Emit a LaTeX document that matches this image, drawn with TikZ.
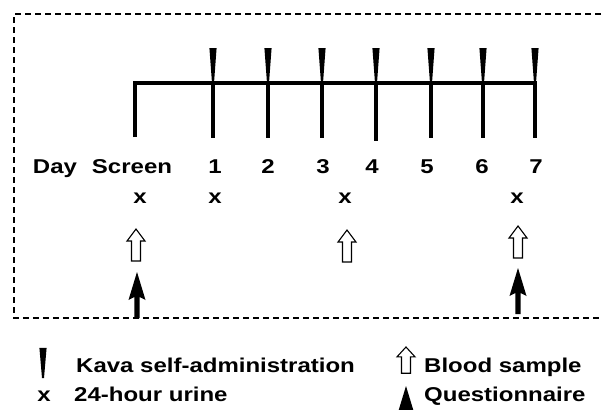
\documentclass[tikz,border=0pt]{standalone}
\usepackage{fontspec}
\setmainfont{Liberation Sans}[FakeStretch=1.2]
\begin{document}
\begin{tikzpicture}[x=1pt,y=-1pt,
  lbl/.style={inner sep=0pt, font=\fontsize{20}{24}\selectfont\bfseries},
  tline/.style={line width=4pt, line join=miter},
  frame/.style={line width=1.3pt, dash pattern=on 6pt off 4pt},
  kava/.pic={\fill (-3.6,-35) -- (3.6,-35) -- (1,0) -- (-1,0) -- cycle;},
  blood/.pic={\draw[line width=1.1pt, fill=white, line join=miter] (0,0) -- (9,12) -- (4.5,12) -- (4.5,32) -- (-4.5,32) -- (-4.5,12) -- (-9,12) -- cycle;},
  quest/.pic={\fill (0,0) -- (8.5,28) -- (2.6,25) -- (2.6,46) -- (-2.6,46) -- (-2.6,25) -- (-8.5,28) -- cycle;}
]
\useasboundingbox (0,0) rectangle (603,410);
% dashed frame (top, left, bottom)
\coordinate (ftr) at (601,14);
\coordinate (ftl) at (14,14);
\coordinate (fbl) at (14,318);
\coordinate (fbr) at (601,318);
\draw[frame] (ftr) -- (ftl) -- (fbl) -- (fbr);
% timeline
\coordinate (s0) at (135,83);
\coordinate (d1) at (213,83);
\coordinate (d2) at (268,83);
\coordinate (d3) at (322,83);
\coordinate (d4) at (376,83);
\coordinate (d5) at (431,83);
\coordinate (d6) at (483,83);
\coordinate (d7) at (535,83);
\draw[tline] (135,137) -- (s0) -- (d7) -- ++(0,55);
\foreach \d in {d1,d2,d3,d5,d6} \draw[tline] (\d) -- ++(0,55);
\draw[tline] (d4) -- ++(0,58);
\foreach \d in {d1,d2,d3,d4,d5,d6,d7} \pic at (\d) {kava};
% day labels
\node[lbl, anchor=base] (lday) at (55,173) {Day};
\node[lbl, anchor=base] (lscr) at (132,173) {Screen};
\node[lbl, anchor=base] (l1) at (215,173) {1};
\node[lbl, anchor=base] (l2) at (268,173) {2};
\node[lbl, anchor=base] (l3) at (323,173) {3};
\node[lbl, anchor=base] (l4) at (372,173) {4};
\node[lbl, anchor=base] (l5) at (427,173) {5};
\node[lbl, anchor=base] (l6) at (482,173) {6};
\node[lbl, anchor=base] (l7) at (536,173) {7};
% urine
\node[lbl, anchor=base] (u0) at (140,203) {x};
\node[lbl, anchor=base] (u1) at (215,203) {x};
\node[lbl, anchor=base] (u3) at (345,203) {x};
\node[lbl, anchor=base] (u7) at (517,203) {x};
% blood samples
\pic at (136,229) {blood};
\pic at (347,230) {blood};
\pic at (518,226) {blood};
% questionnaires
\pic at (137,272) {quest};
\pic at (518,268) {quest};
% legend
\pic[yscale=0.86] at (43,378) {kava};
\node[lbl, anchor=base west] (lk) at (76,372) {Kava self-administration};
\node[lbl, anchor=base] (lx) at (44,401) {x};
\node[lbl, anchor=base west] (lu) at (74,401) {24-hour urine};
\pic[yscale=0.82] at (406,347) {blood};
\node[lbl, anchor=base west] (lb) at (424,372) {Blood sample};
\pic at (406,386) {quest};
\node[lbl, anchor=base west] (lq) at (424,401) {Questionnaire};
\end{tikzpicture}
\end{document}
